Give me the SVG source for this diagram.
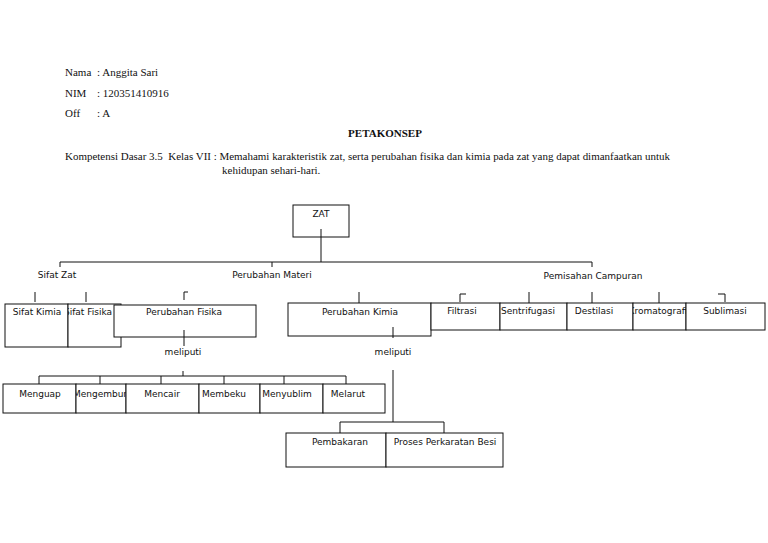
<svg xmlns="http://www.w3.org/2000/svg" width="768" height="543" viewBox="0 0 768 543">
<style>
.hd{font-family:"Liberation Serif","Times New Roman",serif;font-size:11px;fill:#111}
.t{font-family:"DejaVu Sans","Liberation Sans",sans-serif;font-size:9px;fill:#111;text-anchor:middle}
.b{fill:#fff;stroke:#111;stroke-width:1}
.c{fill:none;stroke:#111;stroke-width:1}
</style>
<defs>
<clipPath id="cpSF"><rect x="68" y="304" width="53" height="43"/></clipPath>
<clipPath id="cpMG"><rect x="76" y="384" width="50" height="29"/></clipPath>
<clipPath id="cpKR"><rect x="633" y="303" width="53" height="27"/></clipPath>
</defs>
<rect width="768" height="543" fill="#fff"/>
<g id="header">
<text class="hd" x="65" y="76">Nama</text><text class="hd" x="97" y="76">: Anggita Sari</text>
<text class="hd" x="65" y="97">NIM</text><text class="hd" x="97" y="97">: 120351410916</text>
<text class="hd" x="65" y="117">Off</text><text class="hd" x="97" y="117">: A</text>
<text class="hd" x="385" y="137" text-anchor="middle" font-weight="bold">PETAKONSEP</text>
<text class="hd" x="65" y="160" textLength="605" lengthAdjust="spacingAndGlyphs" xml:space="preserve">Kompetensi Dasar 3.5  Kelas VII : Memahami karakteristik zat, serta perubahan fisika dan kimia pada zat yang dapat dimanfaatkan untuk</text>
<text class="hd" x="222" y="174">kehidupan sehari-hari.</text>
</g>
<g id="connectors">
<path class="c" d="M321 229V262M60 262H592M60 262V267M272 262V267M592 262V267"/>
<path class="c" d="M35 292V302M86 292V302M184 300V292H188M359 292V303M460 302V294H466M529 292V303M592 292V303M659 292V303M725 302V294H718"/>
<path class="c" d="M184 337V346M393 327V338"/>
<path class="c" d="M183 371V376M39 376H346M39 376V384M100 376V384M161 376V384M224 376V384M284 376V384M346 376V384"/>
<path class="c" d="M393 370V422M340 422H444M340 422V433M444 422V433"/>
</g>
<g id="zat"><rect class="b" x="293" y="205" width="56" height="32" fill-opacity="0"/><text class="t" x="321" y="217">ZAT</text></g>
<g id="sifat-zat"><text class="t" x="57" y="278">Sifat Zat</text></g>
<g id="perubahan-materi"><text class="t" x="272" y="278">Perubahan Materi</text></g>
<g id="pemisahan-campuran"><text class="t" x="593" y="279">Pemisahan Campuran</text></g>
<g id="sifat-kimia"><rect class="b" x="5" y="304" width="63" height="43"/><text class="t" x="37" y="315">Sifat Kimia</text></g>
<g id="sifat-fisika"><rect class="b" x="68" y="304" width="53" height="43"/><text class="t" x="88" y="315" clip-path="url(#cpSF)">Sifat Fisika</text></g>
<g id="perubahan-fisika"><rect class="b" x="114" y="305" width="142" height="32"/><text class="t" x="184" y="315">Perubahan Fisika</text><path class="c" d="M184 330V337"/></g>
<g id="meliputi-1"><text class="t" x="183" y="355">meliputi</text></g>
<g id="perubahan-kimia"><rect class="b" x="288" y="303" width="143" height="33" fill-opacity="0"/><text class="t" x="360" y="315">Perubahan Kimia</text></g>
<g id="meliputi-2"><text class="t" x="393" y="355">meliputi</text></g>
<g id="filtrasi"><rect class="b" x="431" y="303" width="69" height="27"/><text class="t" x="462" y="314">Filtrasi</text></g>
<g id="sentrifugasi"><rect class="b" x="500" y="303" width="67" height="27"/><text class="t" x="528" y="314">Sentrifugasi</text></g>
<g id="destilasi"><rect class="b" x="567" y="303" width="66" height="27"/><text class="t" x="594" y="314">Destilasi</text></g>
<g id="kromatografi"><rect class="b" x="633" y="303" width="53" height="27"/><text class="t" x="658" y="314" clip-path="url(#cpKR)">Kromatografi</text></g>
<g id="sublimasi"><rect class="b" x="686" y="303" width="79" height="27"/><text class="t" x="725" y="314">Sublimasi</text></g>
<g id="menguap"><rect class="b" x="3" y="384" width="73" height="29"/><text class="t" x="40" y="397">Menguap</text></g>
<g id="mengembun"><rect class="b" x="76" y="384" width="50" height="29"/><text class="t" x="101" y="397" clip-path="url(#cpMG)">Mengembun</text></g>
<g id="mencair"><rect class="b" x="126" y="384" width="73" height="29"/><text class="t" x="162" y="397">Mencair</text></g>
<g id="membeku"><rect class="b" x="199" y="384" width="61" height="29"/><text class="t" x="224" y="397">Membeku</text></g>
<g id="menyublim"><rect class="b" x="260" y="384" width="63" height="29"/><text class="t" x="287" y="397">Menyublim</text></g>
<g id="melarut"><rect class="b" x="323" y="384" width="62" height="29"/><text class="t" x="348" y="397">Melarut</text></g>
<g id="pembakaran"><rect class="b" x="286" y="433" width="100" height="34"/><text class="t" x="340" y="445">Pembakaran</text></g>
<g id="perkaratan"><rect class="b" x="386" y="433" width="117" height="34"/><text class="t" x="445" y="445">Proses Perkaratan Besi</text></g>
</svg>
